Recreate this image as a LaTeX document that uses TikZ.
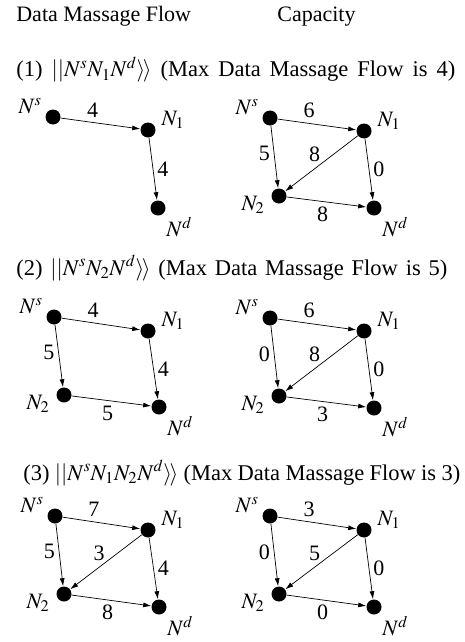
\documentclass[tikz,border=0pt]{standalone}
\usepackage{mathptmx}
\usepackage{fontspec}
\setmainfont{Liberation Serif}
\usetikzlibrary{arrows.meta}

\tikzset{
	dot/.style={circle, fill=black, inner sep=0pt, minimum size=15pt},
	src/.style={dot, label={[shift={(-23,-11)}]center:$N^s$}},
	one/.style={dot, label={[shift={(25,-10)}]center:$N_1$}},
	two/.style={dot, label={[shift={(-26,9)}]center:$N_2$}},
	dst/.style={dot, label={[shift={(21,19)}]center:$N^d$}},
	title/.style={anchor=base west, inner sep=0pt},
	row/.style={title, font=\fontsize{22.5}{27}\selectfont},
	wt/.style={pos=.4, above=4pt, inner sep=1pt},
	wl/.style={pos=.45, left=3pt, inner sep=1pt},
	wd/.style={pos=.5, above left=0pt, inner sep=1pt},
	wr/.style={pos=.5, right=3pt, inner sep=1pt},
	wb/.style={pos=.45, below=4pt, inner sep=1pt}
}

\begin{document}
\begin{tikzpicture}[x=1pt,y=-1pt, font=\fontsize{22}{26}\selectfont, line width=0.7pt, >={Latex[length=8pt,width=5pt]}]
		\useasboundingbox (0,0) rectangle (465,642);
		\node[title] (hflow) at (16,22) {Data Massage Flow};
		\node[title] (hcap) at (277,22) {Capacity};
		% (1)
		\node[row] (row1) at (16,77) {\makebox[439pt][s]{(1) $||N^sN_1N^d\rangle\!\rangle$ (Max Data Massage Flow is 4)}};
		\node[src] (s1) at (53,117) {}; \node[one] (a1) at (148,130) {}; \node[dst] (d1) at (158,208) {};
			\draw[->] (s1) -- node[wt] {4} (a1); \draw[->] (a1) -- node[wr] {4} (d1);
		\node[src] (s1c) at (270,118) {}; \node[one] (a1c) at (364,131) {};
		\node[two] (b1c) at (279,196) {}; \node[dst] (d1c) at (374,208) {};
			\draw[->] (s1c) -- node[wt] {6} (a1c); \draw[->] (s1c) -- node[wl] {5} (b1c);
			\draw[->] (a1c) -- node[wd] {8} (b1c); \draw[->] (a1c) -- node[wr] {0} (d1c);
			\draw[->] (b1c) -- node[wb] {8} (d1c);
		% (2)
		\node[row] (row2) at (16,275) {\makebox[431pt][s]{(2) $||N^sN_2N^d\rangle\!\rangle$ (Max Data Massage Flow is 5)}};
		\node[src] (s2) at (54,317) {}; \node[one] (a2) at (148,331) {};
		\node[two] (b2) at (64,395) {}; \node[dst] (d2) at (159,407) {};
			\draw[->] (s2) -- node[wt] {4} (a2); \draw[->] (s2) -- node[wl] {5} (b2);
			\draw[->] (a2) -- node[wr] {4} (d2); \draw[->] (b2) -- node[wb] {5} (d2);
		\node[src] (s2c) at (270,318) {}; \node[one] (a2c) at (364,331) {};
		\node[two] (b2c) at (279,396) {}; \node[dst] (d2c) at (374,408) {};
			\draw[->] (s2c) -- node[wt] {6} (a2c); \draw[->] (s2c) -- node[wl] {0} (b2c);
			\draw[->] (a2c) -- node[wd] {8} (b2c); \draw[->] (a2c) -- node[wr] {0} (d2c);
			\draw[->] (b2c) -- node[wb] {3} (d2c);
		% (3)
		\node[row] (row3) at (23,480) {\makebox[437pt][s]{(3) $||N^sN_1N_2N^d\rangle\!\rangle$ (Max Data Massage Flow is 3)}};
		\node[src] (s3) at (55,516) {}; \node[one] (a3) at (148,530) {};
		\node[two] (b3) at (64,594) {}; \node[dst] (d3) at (159,607) {};
			\draw[->] (s3) -- node[wt] {7} (a3); \draw[->] (s3) -- node[wl] {5} (b3);
			\draw[->] (a3) -- node[wd] {3} (b3); \draw[->] (a3) -- node[wr] {4} (d3);
			\draw[->] (b3) -- node[wb] {8} (d3);
		\node[src] (s3c) at (270,516) {}; \node[one] (a3c) at (364,530) {};
		\node[two] (b3c) at (279,594) {}; \node[dst] (d3c) at (374,607) {};
			\draw[->] (s3c) -- node[wt] {3} (a3c); \draw[->] (s3c) -- node[wl] {0} (b3c);
			\draw[->] (a3c) -- node[wd] {5} (b3c); \draw[->] (a3c) -- node[wr] {0} (d3c);
			\draw[->] (b3c) -- node[wb] {0} (d3c);
	\end{tikzpicture}
\end{document}
